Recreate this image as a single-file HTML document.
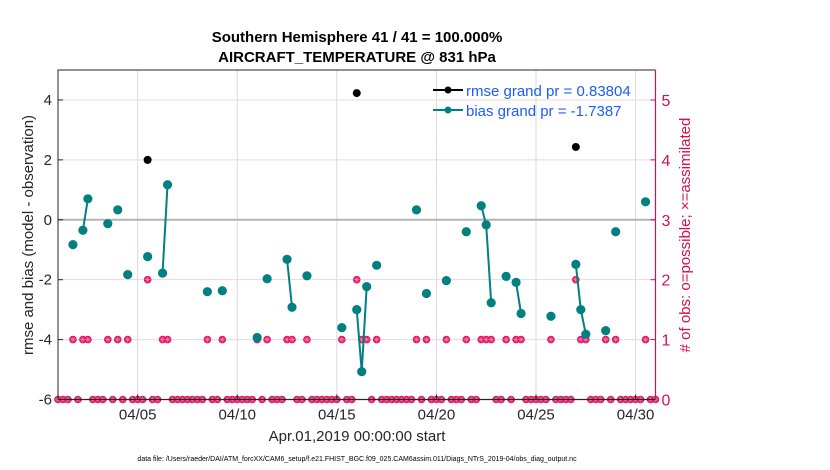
<!DOCTYPE html>
<html><head><meta charset="utf-8"><style>
body{margin:0;background:#fff}
svg{display:block;font-family:"Liberation Sans",Arial,sans-serif}
</style></head><body>
<svg id="chart" width="830" height="470" viewBox="0 0 830 470">
<rect x="0" y="0" width="830" height="470" fill="#fff"/>
<g id="grid"></g>
<g id="marks"></g>
<g id="axes"></g>
<text x="357" y="42" text-anchor="middle" font-size="15" font-weight="bold">Southern Hemisphere 41 / 41 = 100.000%</text>
<text x="357" y="62" text-anchor="middle" font-size="15" font-weight="bold">AIRCRAFT_TEMPERATURE @ 831 hPa</text>
<text transform="translate(33,235) rotate(-90)" text-anchor="middle" font-size="15" fill="#262626">rmse and bias (model - observation)</text>
<text transform="translate(690,235) rotate(-90)" text-anchor="middle" font-size="15" fill="#d6104f">#  of obs: o=possible; ×=assimilated</text>
<text x="357" y="441" text-anchor="middle" font-size="15" fill="#262626">Apr.01,2019 00:00:00 start</text>
<text x="357" y="461" text-anchor="middle" font-size="7" fill="#000">data file: /Users/raeder/DAI/ATM_forcXX/CAM6_setup/f.e21.FHIST_BGC.f09_025.CAM6assim.011/Diags_NTrS_2019-04/obs_diag_output.nc</text>
<g id="legend">
<line x1="433" y1="90" x2="463" y2="90" stroke="#000" stroke-width="2"/>
<circle cx="448" cy="90" r="3.5" fill="#000"/>
<text x="466" y="96" font-size="15" fill="#1a5cff">rmse grand pr = 0.83804</text>
<line x1="433" y1="110" x2="463" y2="110" stroke="#008080" stroke-width="2"/>
<circle cx="448" cy="110" r="3.5" fill="#008080"/>
<text x="466" y="116" font-size="15" fill="#1a5cff">bias grand pr = -1.7387</text>
</g>
</svg>
<script>
const xTickDays=[4,9,14,19,24,29];
const xTickLabels=["04/05","04/10","04/15","04/20","04/25","04/30"];
const yTicks=[-6,-4,-2,0,2,4];
const y2Ticks=[0,1,2,3,4,5];
const biasDays=[0.75,1.25,1.5,2.5,3,3.5,4.5,5.25,5.5,7.5,8.25,10,10.5,11.5,11.75,12.5,14.25,15,15.25,15.5,16,18,18.5,19.5,20.5,21.25,21.5,21.75,22.5,23,23.25,24.75,26,26.25,26.5,27.5,28,29.5];
const biasValues=[-0.83,-0.35,0.70,-0.13,0.33,-1.83,-1.23,-1.78,1.17,-2.4,-2.37,-3.93,-1.97,-1.32,-2.92,-1.87,-3.6,-3.0,-5.07,-2.23,-1.52,0.33,-2.46,-2.03,-0.4,0.47,-0.17,-2.77,-1.89,-2.09,-3.13,-3.22,-1.49,-3.0,-3.82,-3.7,-0.4,0.6];
const rmseDays=[4.5,15,26];
const rmseValues=[2.0,4.23,2.43];
const obsCounts=[0,0,0,1,0,1,1,0,0,0,1,0,1,0,1,0,0,0,2,0,
0,1,1,0,0,0,0,0,0,0,1,0,0,1,0,0,0,0,0,0,
1,0,1,0,0,0,1,1,0,0,1,0,0,0,0,0,0,1,0,0,
2,1,1,0,1,0,0,0,0,0,0,0,1,0,1,0,0,0,1,0,
0,0,1,0,0,1,1,1,0,0,1,0,1,1,0,0,0,0,0,1,
0,0,0,0,2,1,1,0,0,0,1,0,1,0,0,0,0,0,1,0,0];

const NS="http://www.w3.org/2000/svg";
const L=58,R=655.5,T=70,B=399.5;
const xs=d=>L+d*(R-L)/30;
const ys=v=>B-(v+6)*(B-T)/11;
const y2s=v=>B-v*(B-T)/5.5;
function mk(tag,attrs,parent){const e=document.createElementNS(NS,tag);for(const k in attrs)e.setAttribute(k,attrs[k]);parent.appendChild(e);return e;}
const grid=document.getElementById('grid'),marks=document.getElementById('marks'),axes=document.getElementById('axes');

xTickDays.forEach((d,i)=>{
 const g=mk('line',{x1:xs(d),x2:xs(d),y1:T,y2:B,stroke:'#d9d9d9','stroke-width':1},grid);
 
 
 const t=mk('line',{x1:xs(d),x2:xs(d),y1:B,y2:B-5,stroke:'#262626'},axes);
 
 
 const tt=mk('text',{x:xs(d),y:B+20,'text-anchor':'middle','font-size':15,fill:'#262626'},axes);
 tt.textContent=xTickLabels[i];
 
 
});
yTicks.forEach(v=>{
 if(v!==0&&v!==-6){const g=mk('line',{x1:L,x2:R,y1:ys(v),y2:ys(v),stroke:'#f2d3de','stroke-width':1},grid);
 
 }
 const tt=mk('text',{x:L-6,y:ys(v)+5,'text-anchor':'end','font-size':15,fill:'#262626'},axes);
 tt.textContent=v;
 
 
 const t=mk('line',{x1:L,x2:L+5,y1:ys(v),y2:ys(v),stroke:'#262626'},axes);
 
 
});
const z=mk('line',{x1:L,x2:R,y1:ys(0),y2:ys(0),stroke:'#b3b3b3','stroke-width':2},grid);


y2Ticks.forEach(v=>{
 const tt=mk('text',{x:R+6,y:y2s(v)+6,'font-size':16,fill:'#d6104f'},axes);
 tt.textContent=v;
 
 
 const t=mk('line',{x1:R,x2:R-5,y1:y2s(v),y2:y2s(v),stroke:'#d6104f'},axes);
 
 
});
const f=mk('path',{d:`M${L},${B}V${T}H${R}`,fill:'none',stroke:'#262626','stroke-width':1},axes);


const bx=mk('line',{x1:L,x2:R,y1:B,y2:B,stroke:'#262626','stroke-width':1.2},axes);


const ry=mk('line',{x1:R,x2:R,y1:T,y2:B,stroke:'#d6104f','stroke-width':1.2},axes);



obsCounts.forEach((c,i)=>{
 const cx=xs(i/4),cy=y2s(c);
 const g=mk('g',{},marks);
 
 
 mk('circle',{cx:cx,cy:cy,r:3.8,fill:'#e0115f'},g);
 mk('path',{d:`M${cx-3},${cy}H${cx+3}M${cx},${cy-3}V${cy+3}M${cx-2},${cy-2}L${cx+2},${cy+2}M${cx-2},${cy+2}L${cx+2},${cy-2}`,stroke:'#f08ab0','stroke-width':0.6},g);
});
for(let i=1;i<biasDays.length;i++){
 if(Math.abs(biasDays[i]-biasDays[i-1]-0.25)<1e-6){
  const l=mk('line',{x1:xs(biasDays[i-1]),y1:ys(biasValues[i-1]),x2:xs(biasDays[i]),y2:ys(biasValues[i]),stroke:'#008080','stroke-width':2},marks);
  
  
 }
}
biasDays.forEach((d,i)=>{
 const c=mk('circle',{cx:xs(d),cy:ys(biasValues[i]),r:4.6,fill:'#008080'},marks);
 
 
});
rmseDays.forEach((d,i)=>{
 const c=mk('circle',{cx:xs(d),cy:ys(rmseValues[i]),r:4,fill:'#000'},marks);
 
 
});
</script>
</body></html>
